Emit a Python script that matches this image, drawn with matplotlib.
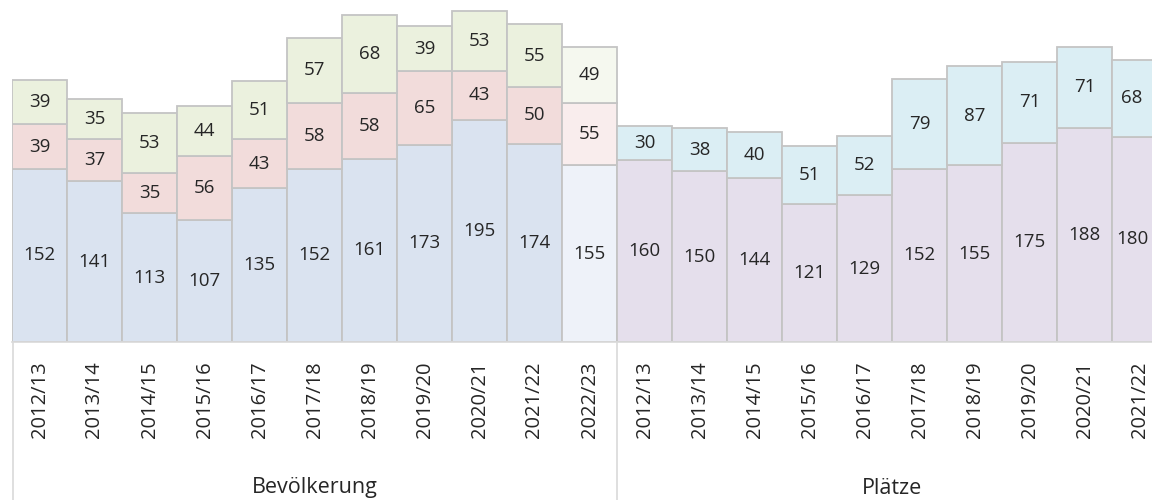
import numpy as np
import matplotlib.pyplot as plt
from matplotlib.lines import Line2D

plt.rcParams['font.family'] = ['Open Sans', 'DejaVu Sans']

# Bevölkerung
years_bev = ['2012/13', '2013/14', '2014/15', '2015/16', '2016/17', '2017/18',
             '2018/19', '2019/20', '2020/21', '2021/22', '2022/23']
bev_bottom = [152, 141, 113, 107, 135, 152, 161, 173, 195, 174, 155]
bev_mid = [39, 37, 35, 56, 43, 58, 58, 65, 43, 50, 55]
bev_top = [39, 35, 53, 44, 51, 57, 68, 39, 53, 55, 49]

# Plätze
years_pl = ['2012/13', '2013/14', '2014/15', '2015/16', '2016/17', '2017/18',
            '2018/19', '2019/20', '2020/21', '2021/22']
pl_bottom = [160, 150, 144, 121, 129, 152, 155, 175, 188, 180]
pl_top = [30, 38, 40, 51, 52, 79, 87, 71, 71, 68]

W, H = 1152, 500
fig = plt.figure(figsize=(W / 100, H / 100), dpi=100)
left_px, base_px, bar_px = 12, 342, 55
ax = fig.add_axes([left_px / W, (H - base_px) / H, (W - left_px) / W, base_px / H])

edge = '#c4c4c4'
txt = '#262626'
n_bev = len(years_bev)
x_bev = np.arange(n_bev)
x_pl = np.arange(len(years_pl)) + n_bev

# colours: last Bevölkerung bar lighter
c_blue = ['#dae3f0'] * (n_bev - 1) + ['#eef2f9']
c_pink = ['#f2dcdb'] * (n_bev - 1) + ['#f9eded']
c_green = ['#ebf1de'] * (n_bev - 1) + ['#f5f8ef']

b1 = ax.bar(x_bev, bev_bottom, width=1.0, color=c_blue, edgecolor=edge, linewidth=1.3)
b2 = ax.bar(x_bev, bev_mid, bottom=bev_bottom, width=1.0, color=c_pink, edgecolor=edge, linewidth=1.3)
b3 = ax.bar(x_bev, bev_top, bottom=np.add(bev_bottom, bev_mid), width=1.0,
            color=c_green, edgecolor=edge, linewidth=1.3)
p1 = ax.bar(x_pl, pl_bottom, width=1.0, color='#e5dfec', edgecolor=edge, linewidth=1.3)
p2 = ax.bar(x_pl, pl_top, bottom=pl_bottom, width=1.0, color='#dbeef4', edgecolor=edge, linewidth=1.3)

for bars in (b1, b2, b3, p1, p2):
    ax.bar_label(bars, label_type='center', fontsize=13.5, color=txt, clip_on=False)

ax.set_xlim(-0.5, -0.5 + (W - left_px) / bar_px)
ax.set_ylim(0, base_px / 1.139)
ax.set_yticks([])
for s in ['top', 'right', 'left']:
    ax.spines[s].set_visible(False)
ax.spines['bottom'].set_color('#d9d9d9')
ax.spines['bottom'].set_linewidth(1.2)

ax.set_xticks(np.concatenate([x_bev, x_pl]))
ax.set_xticklabels(years_bev + years_pl, rotation=90, fontsize=14.5, color=txt)
ax.tick_params(axis='x', length=0, pad=14)

# group separators
line_col = '#d9d9d9'
for xpx in (left_px + 0.5, left_px + n_bev * bar_px):
    fig.add_artist(Line2D([xpx / W, xpx / W], [0, (H - base_px) / H],
                          color=line_col, linewidth=1.2))

fig.text((left_px + n_bev * bar_px / 2) / W, 12 / H, 'Bevölkerung',
         ha='center', va='center', fontsize=15.5, color=txt)
fig.text((left_px + n_bev * bar_px + len(years_pl) * bar_px / 2) / W, 12 / H, 'Plätze',
         ha='center', va='center', fontsize=15.5, color=txt)

fig.savefig('out.png', dpi=100)
